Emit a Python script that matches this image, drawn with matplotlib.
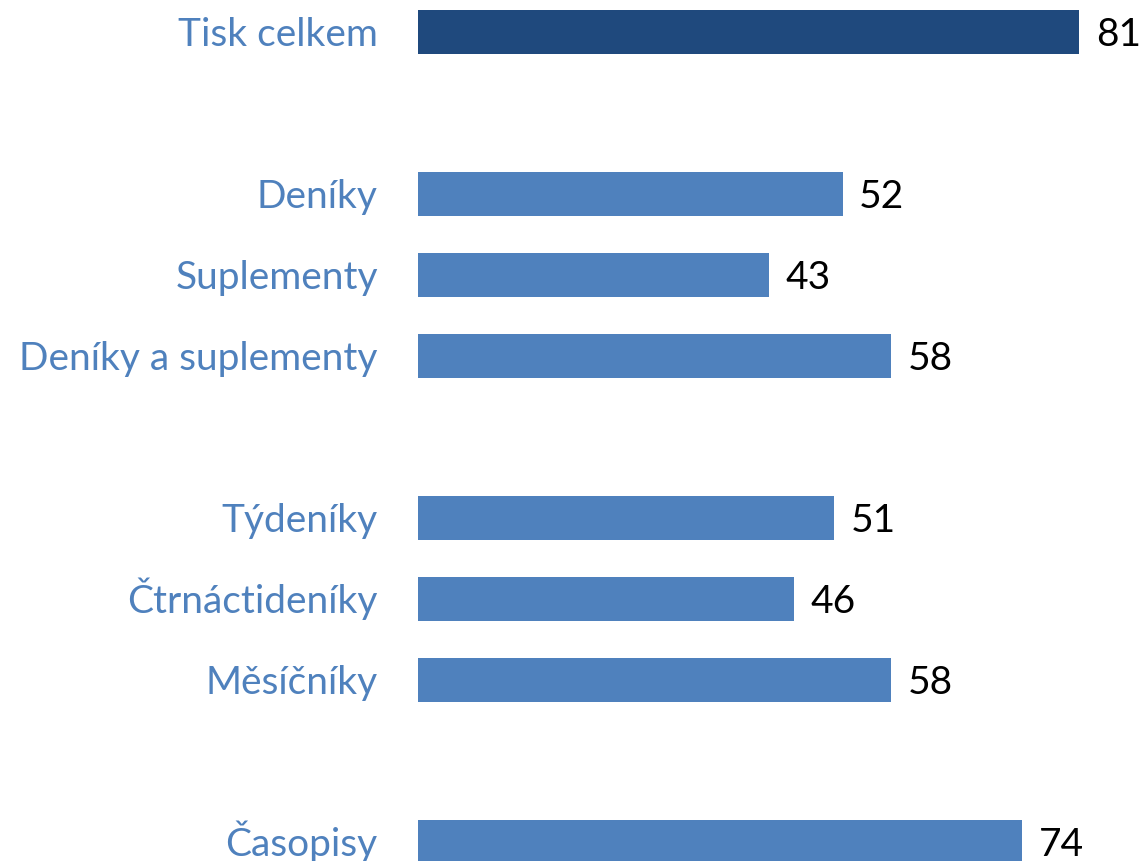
import matplotlib.pyplot as plt

# readership by press type (%)
labels = ["Tisk celkem", "", "Deníky", "Suplementy", "Deníky a suplementy", "",
          "Týdeníky", "Čtrnáctideníky", "Měsíčníky", "", "Časopisy"]
values = [81, None, 52, 43, 58, None, 51, 46, 58, None, 74]
bar_colors = ["#1F497D", None, "#4F81BD", "#4F81BD", "#4F81BD", None,
              "#4F81BD", "#4F81BD", "#4F81BD", None, "#4F81BD"]

plt.rcParams['font.family'] = ['Lato', 'DejaVu Sans']
FS = 28
DROP = -0.36 * FS   # baseline offset so caps sit centred on the bar

fig = plt.figure(figsize=(11.47, 8.61), dpi=100)
ax = fig.add_axes([418 / 1147, 0, 1 - 418 / 1147, 1])

pos = [i for i, v in enumerate(values) if v is not None]
vals = [values[i] for i in pos]
cols = [bar_colors[i] for i in pos]

ax.barh(pos, vals, height=0.55, color=cols)

for p, v in zip(pos, vals):
    # category name left of the bar
    ax.annotate(labels[p], xy=(0, p), xytext=(-29, DROP),
                textcoords="offset points", ha="right", va="baseline",
                fontsize=FS, color="#4F81BD", annotation_clip=False)
    # value at the bar end
    ax.annotate(str(v), xy=(v, p), xytext=(12, DROP),
                textcoords="offset points", ha="left", va="baseline",
                fontsize=FS, color="black", annotation_clip=False)

ax.set_xticks([])
ax.set_yticks([])
ax.set_xlim(0, 89.3)
ax.set_ylim(10.235, -0.395)
for s in ax.spines.values():
    s.set_visible(False)

fig.savefig("out.png", dpi=100)
